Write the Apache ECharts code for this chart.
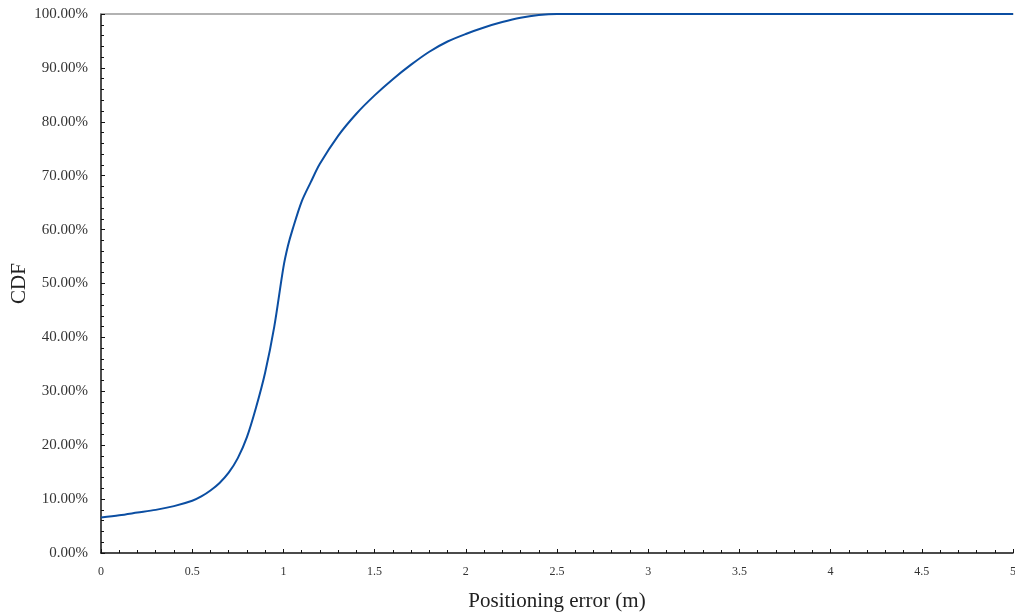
<!DOCTYPE html>
<html>
<head>
<meta charset="utf-8">
<script src="https://cdn.jsdelivr.net/npm/echarts@6/dist/echarts.min.js"></script>
<style>html,body{margin:0;padding:0;background:#fff}#c{width:1015px;height:614px}</style>
</head>
<body>
<div id="c"></div>
<script>
const errorX = [0, 0.1, 0.2, 0.3, 0.4, 0.5, 0.55, 0.6, 0.65, 0.7, 0.75, 0.8, 0.85, 0.9, 0.95, 1.0, 1.025, 1.05, 1.1, 1.15, 1.2, 1.3, 1.4, 1.5, 1.6, 1.7, 1.8, 1.9, 2.0, 2.1, 2.2, 2.3, 2.4, 2.5, 5];
const cdfY = [6.6, 7.0, 7.5, 8.0, 8.7, 9.7, 10.5, 11.6, 13.0, 14.9, 17.6, 21.5, 27.0, 33.5, 42.0, 53.0, 57.0, 60.0, 65.2, 68.8, 72.2, 77.4, 81.5, 84.9, 87.9, 90.6, 93.0, 94.9, 96.3, 97.5, 98.5, 99.3, 99.8, 100, 100];
const xName = 'Positioning error (m)';
const yName = 'CDF';

const points = errorX.map((x, i) => [x, cdfY[i]]);
const font = 'Liberation Serif';
const chart = echarts.init(document.getElementById('c'));
chart.setOption({
  animation: false,
  backgroundColor: '#fff',
  grid: { left: 101, right: 2, top: 14, bottom: 61, containLabel: false, outerBoundsMode: 'none' },
  xAxis: [{
    type: 'value', min: 0, max: 5, interval: 0.5,
    name: xName, nameLocation: 'middle', nameGap: 38, nameMoveOverlap: false,
    nameTextStyle: { fontFamily: font, fontSize: 21, color: '#222' },
    axisLine: { show: true, lineStyle: { color: '#111', width: 1.5 } },
    axisTick: { show: true, inside: true, length: 4, lineStyle: { color: '#111' } },
    minorTick: { show: true, splitNumber: 5, length: 3, lineStyle: { color: '#111' } },
    splitLine: { show: false },
    axisLabel: { fontFamily: font, fontSize: 12, color: '#333', margin: 13 }
  }, {
    type: 'value', position: 'top', min: 0, max: 5,
    axisLine: { show: true, onZero: false, lineStyle: { color: '#999', width: 1.5 } },
    axisTick: { show: false }, axisLabel: { show: false }, splitLine: { show: false }
  }],
  yAxis: {
    type: 'value', min: 0, max: 100, interval: 10,
    name: yName, nameLocation: 'middle', nameGap: 71, nameRotate: 90, nameMoveOverlap: false,
    nameTextStyle: { fontFamily: font, fontSize: 21, color: '#222' },
    axisLine: { show: true, lineStyle: { color: '#111', width: 1.5 } },
    axisTick: { show: true, inside: true, length: 4, lineStyle: { color: '#111' } },
    minorTick: { show: true, splitNumber: 5, length: 3, lineStyle: { color: '#111' } },
    splitLine: { show: false },
    axisLabel: { fontFamily: font, fontSize: 15, color: '#333', margin: 13,
      formatter: v => v.toFixed(2) + '%' }
  },
  series: [{
    type: 'line', data: points, smooth: 0.3, showSymbol: false,
    lineStyle: { color: '#0b4ea2', width: 2 }
  }]
});
</script>
</body>
</html>
